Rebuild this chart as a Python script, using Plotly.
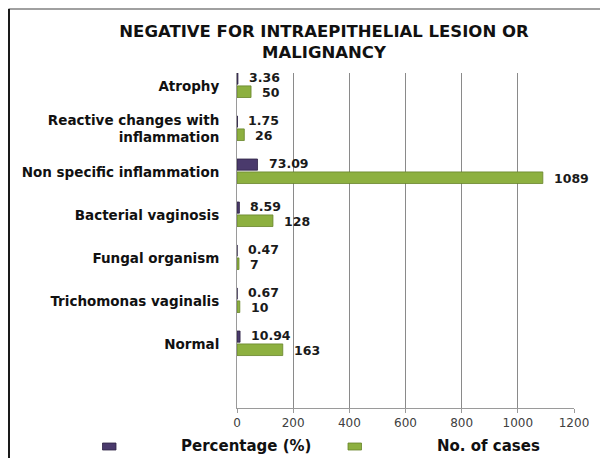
import plotly.graph_objects as go

categories = ["Atrophy", "Reactive changes with<br>inflammation", "Non specific inflammation",
              "Bacterial vaginosis", "Fungal organism", "Trichomonas vaginalis", "Normal"]
percentage = [3.36, 1.75, 73.09, 8.59, 0.47, 0.67, 10.94]
cases = [50, 26, 1089, 128, 7, 10, 163]
x_ticks = [0, 200, 400, 600, 800, 1000, 1200]
series_names = ["Percentage (%)", "No. of cases"]
title_text = "NEGATIVE FOR INTRAEPITHELIAL LESION OR<br>MALIGNANCY"

FONT = "DejaVu Sans"
PURPLE = "#4a3a6c"
PURPLE_EDGE = "#2e2345"
GREEN = "#8db040"
GREEN_EDGE = "#67842a"

n = len(categories)
ypos = [n - 1 - i for i in range(n)]  # Atrophy at top

# page body has an 8px margin: work in figure coordinates (screen - 8)
OFF = 8
W, H = 600, 450
L, R, T, B = 237 - OFF, W - (574 - OFF), 73 - OFF, H - (408 - OFF)
pw, ph = W - L - R, H - T - B

def px_x(sx):
    return (sx - OFF - L) / pw

def px_y(sy):
    return (H - B - (sy - OFF)) / ph

P_OFF, P_W = 0.04, 0.26
G_OFF, G_W = -0.27, 0.27

fig = go.Figure()
fig.add_trace(go.Bar(
    y=ypos, x=percentage, orientation="h", name=series_names[0],
    marker=dict(color=PURPLE, line=dict(color=PURPLE_EDGE, width=0.8)),
    offset=P_OFF, width=P_W, showlegend=False, hoverinfo="x",
))
fig.add_trace(go.Bar(
    y=ypos, x=cases, orientation="h", name=series_names[1],
    marker=dict(color=GREEN, line=dict(color=GREEN_EDGE, width=0.8)),
    offset=G_OFF, width=G_W, showlegend=False, hoverinfo="x",
))

VFONT = dict(family=FONT, size=12.5, color="#1a1a1a", weight="bold")
annotations = []
for y, p, c in zip(ypos, percentage, cases):
    annotations.append(dict(x=p, y=y + P_OFF + P_W / 2, xref="x", yref="y",
                            text=f"{p:.2f}", showarrow=False, xanchor="left", xshift=9,
                            yshift=1, font=VFONT))
    annotations.append(dict(x=c, y=y + G_OFF + G_W / 2, xref="x", yref="y",
                            text=f"{c}", showarrow=False, xanchor="left", xshift=9,
                            yshift=-1, font=VFONT))

# legend (manual, to reproduce wide marker-text gap)
legend_items = [(series_names[0], PURPLE, PURPLE_EDGE, 102.5, 179),
                (series_names[1], GREEN, GREEN_EDGE, 348, 435)]
shapes = []
for name, col, edge, mx, tx in legend_items:
    shapes.append(dict(type="rect", xref="paper", yref="paper",
                       x0=px_x(mx), x1=px_x(mx + 13.5), y0=px_y(450), y1=px_y(443),
                       fillcolor=col, line=dict(color=edge, width=0.8)))
    annotations.append(dict(x=px_x(tx), y=px_y(446.5), xref="paper", yref="paper",
                            text=name, showarrow=False, xanchor="left", yanchor="middle",
                            font=dict(family=FONT, size=15, color="#111111", weight="bold")))

# chart border (left and top)
shapes.append(dict(type="line", xref="paper", yref="paper",
                   x0=px_x(8.5), x1=px_x(610), y0=px_y(9), y1=px_y(9),
                   line=dict(color="#808080", width=1.5)))
shapes.append(dict(type="line", xref="paper", yref="paper",
                   x0=px_x(9), x1=px_x(9), y0=px_y(9), y1=px_y(460),
                   line=dict(color="#1a1a1a", width=2)))

fig.update_layout(
    width=W, height=H,
    margin=dict(l=L, r=R, t=T, b=B, autoexpand=False),
    paper_bgcolor="white", plot_bgcolor="white",
    barmode="overlay",
    title=dict(text=title_text, x=(324 - OFF) / W, xanchor="center", xref="container",
               y=1 - (37 - OFF) / H, yanchor="middle", yref="container",
               font=dict(family=FONT, size=16.5, color="#111111", weight="bold")),
    xaxis=dict(range=[0, 1200], tickvals=x_ticks, ticktext=[str(v) for v in x_ticks],
               showgrid=True, gridcolor="#8a8a8a", gridwidth=1,
               showline=True, linecolor="#9a9a9a", linewidth=1,
               ticks="outside", ticklen=4, tickcolor="#9a9a9a",
               tickfont=dict(family=FONT, size=12, color="#404040"),
               zeroline=False, fixedrange=True),
    yaxis=dict(range=[-1.49, 6.3], tickvals=ypos, ticktext=categories,
               showgrid=False, showline=True, linecolor="#9a9a9a", linewidth=1,
               ticks="", ticklabelstandoff=14,
               tickfont=dict(family=FONT, size=13.5, color="#111111", weight="bold"),
               zeroline=False, fixedrange=True),
    annotations=annotations,
    shapes=shapes,
    showlegend=False,
)

fig.write_html("out.html")
